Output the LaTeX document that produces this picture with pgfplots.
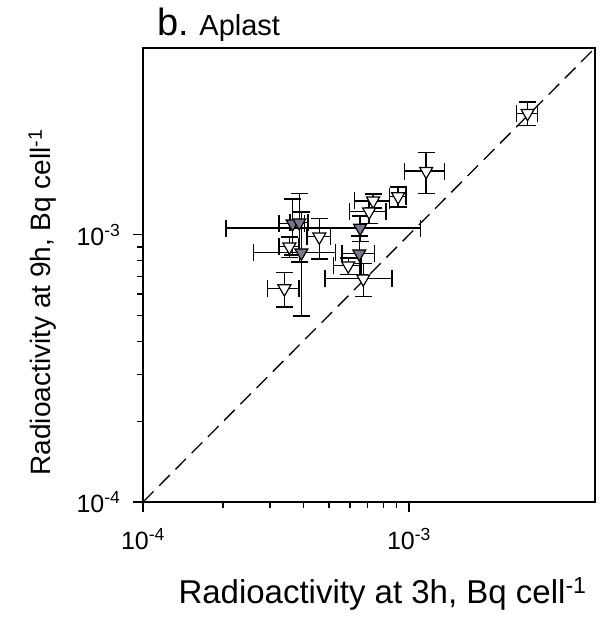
\documentclass[border=0pt]{standalone}
\usepackage{pgfplots}
\pgfplotsset{compat=1.18}
\usepackage{pgfplotstable}
\usepackage{fontspec}
\setmainfont{Liberation Sans}

% open triangles: x y ex ey
\pgfplotstableread{
x        y        ex       ey
1.16e-3  1.73e-3  2.0e-4   3.0e-4
9.10e-4  1.39e-3  6.5e-5   1.2e-4
7.33e-4  1.34e-3  1.1e-4   8.0e-5
7.08e-4  1.22e-3  1.1e-4   1.2e-4
5.91e-4  7.66e-4  7.0e-5   5.4e-5
6.73e-4  6.85e-4  1.9e-4   9.7e-5
3.55e-4  9.02e-4  3.0e-5   8.0e-5
4.60e-4  9.83e-4  4.6e-5   1.7e-4
3.40e-4  6.29e-4  4.6e-5   9.3e-5
2.79e-3  2.85e-3  2.5e-4   2.9e-4
}\openpts

% filled (grey) triangles
\pgfplotstableread{
x        y        ex       ey
6.55e-4  1.06e-3  4.5e-4   1.15e-4
6.50e-4  8.50e-4  9.0e-5   1.4e-4
3.65e-4  1.10e-3  4.0e-5   2.6e-4
3.87e-4  1.11e-3  3.0e-5   3.2e-4
3.94e-4  8.57e-4  1.34e-4  3.6e-4
}\greypts

\definecolor{trigrey}{RGB}{118,118,140}

\begin{document}
\begin{tikzpicture}
\begin{loglogaxis}[
    scale only axis,
    width=452pt, height=454pt,
    xmin=1e-4, xmax=5e-3,
    ymin=1e-4, ymax=5e-3,
    axis line style={line width=1.2pt},
    tick style={line width=1.2pt, black},
    tick align=outside,
    xtick pos=bottom, ytick pos=left,
    major tick length=10pt, minor tick length=6pt,
    xtick={1e-4,1e-3}, ytick={1e-4,1e-3},
    xticklabels={10\textsuperscript{-4},10\textsuperscript{-3}},
    yticklabels={10\textsuperscript{-4},10\textsuperscript{-3}},
    ticklabel style={font=\fontsize{25}{25}\selectfont},
    xticklabel style={yshift=-13pt},
    yticklabel style={xshift=-9pt},
    xlabel={Radioactivity at 3h, Bq cell\textsuperscript{-1}},
    ylabel={Radioactivity at 9h, Bq cell\textsuperscript{-1}},
    xlabel style={font=\fontsize{33}{33}\selectfont, at={(axis description cs:0.53,0)}, anchor=base, yshift=-101pt},
    ylabel style={font=\fontsize{28}{28}\selectfont, at={(axis description cs:0,0.44)}, anchor=base, yshift=92pt},
    clip=false,
    error bars/error mark options={rotate=90, mark size=8.5pt, line width=1.4pt, black},
    error bars/error bar style={line width=1.4pt, black},
]
\addplot[black, line width=1.3pt, dash pattern=on 15pt off 8pt, no marks]
    coordinates {(1e-4,1e-4) (5e-3,5e-3)};

\addplot[only marks, mark=triangle*, mark size=7.5pt,
    mark options={rotate=180, fill=white, draw=black, line width=1.2pt},
    error bars/.cd, x dir=both, x explicit, y dir=both, y explicit]
    table[x=x, y=y, x error=ex, y error=ey] {\openpts};

\addplot[only marks, mark=triangle*, mark size=7.5pt,
    mark options={rotate=180, fill=trigrey, draw=black, line width=1.2pt},
    error bars/.cd, x dir=both, x explicit, y dir=both, y explicit]
    table[x=x, y=y, x error=ex, y error=ey] {\greypts};

\node[anchor=base west, inner sep=0pt] at ([xshift=14pt, yshift=13pt]rel axis cs:0,1)
    {\fontsize{38}{38}\selectfont b.\ \fontsize{29}{29}\selectfont Aplast};
\end{loglogaxis}
\pgfresetboundingbox
\path[use as bounding box] (-143pt,-124pt) rectangle (457pt,502pt);
\end{tikzpicture}
\end{document}
